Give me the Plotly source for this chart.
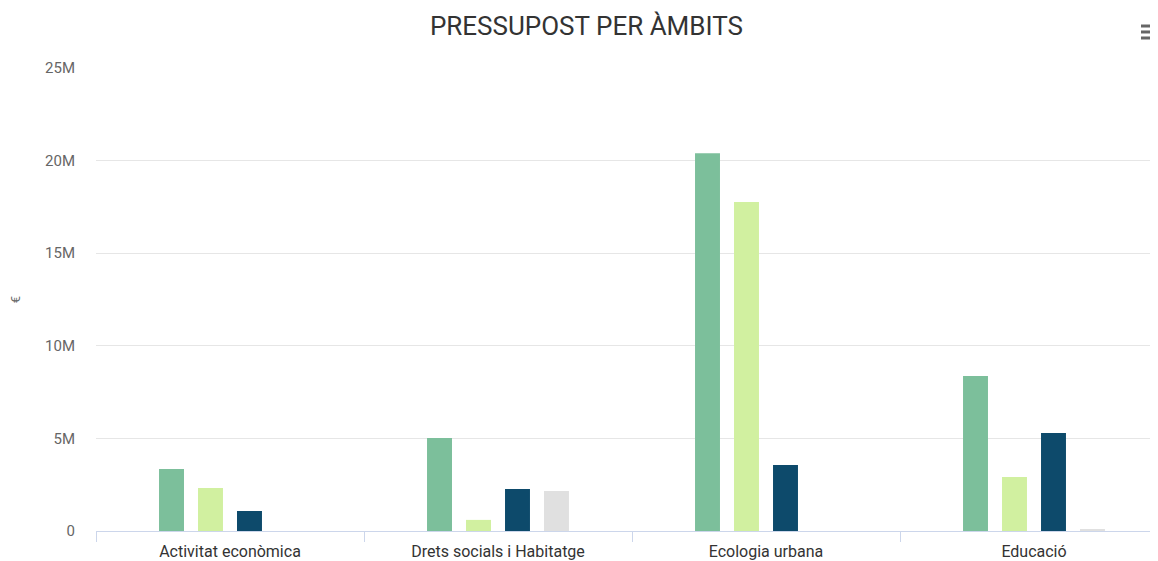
import plotly.graph_objects as go

TITLE = "PRESSUPOST PER ÀMBITS"
CATEGORIES = ["Activitat econòmica", "Drets socials i Habitatge", "Ecologia urbana", "Educació"]

SERIES_A = [3.35e6, 5.02e6, 20.4e6, 8.37e6]
SERIES_B = [2.32e6, 0.6e6, 17.76e6, 2.92e6]
SERIES_C = [1.08e6, 2.27e6, 3.56e6, 5.29e6]
SERIES_D = [0, 2.16e6, 0, 0.08e6]

SERIES = [
    ("Sèrie 1", SERIES_A, "#7cbf9b"),
    ("Sèrie 2", SERIES_B, "#d1f0a0"),
    ("Sèrie 3", SERIES_C, "#0d4a6b"),
    ("Sèrie 4", SERIES_D, "#e0e0e0"),
]

FONT = "Roboto, sans-serif"
AXIS_LINE_COLOR = "#ccd6eb"
GRID_COLOR = "#e6e6e6"
MENU_COLOR = "#666666"

fig = go.Figure()
for name, values, color in SERIES:
    fig.add_trace(go.Bar(
        x=CATEGORIES,
        y=values,
        name=name,
        marker_color=color,
        marker_line_width=0,
        showlegend=False,
    ))

# the page body adds an 8px margin, so the figure is 8px smaller than the window
fig.update_layout(
    width=1150,
    height=553,
    margin=dict(l=88, r=0, t=60, b=30, autoexpand=False),
    paper_bgcolor="white",
    plot_bgcolor="white",
    barmode="group",
    bargap=0.418,
    bargroupgap=0.36,
    font=dict(family=FONT, color="#666666", size=15),
    title=dict(
        text=TITLE,
        x=0.503,
        xanchor="center",
        y=0.968,
        yanchor="middle",
        font=dict(family=FONT, size=26, color="#333333"),
    ),
    xaxis=dict(
        range=[-0.5, 3.4627],
        showline=True,
        linecolor=AXIS_LINE_COLOR,
        linewidth=1,
        ticks="outside",
        tickson="boundaries",
        ticklen=10,
        tickcolor=AXIS_LINE_COLOR,
        tickfont=dict(size=16, color="#333333"),
        ticklabelstandoff=6,
        showgrid=False,
        automargin=False,
        fixedrange=True,
    ),
    yaxis=dict(
        range=[0, 25e6],
        tickvals=[0, 5e6, 10e6, 15e6, 20e6, 25e6],
        ticktext=["0", "5M", "10M", "15M", "20M", "25M"],
        tickfont=dict(size=15, color="#666666"),
        gridcolor=GRID_COLOR,
        gridwidth=1,
        zeroline=False,
        ticklabelstandoff=20,
        title=dict(text="€", standoff=37, font=dict(size=13, color="#666666")),
        automargin=False,
        fixedrange=True,
    ),
)

# Highcharts-style context menu icon (three bars)
for y in (1.0907, 1.0778, 1.0648):
    fig.add_shape(type="line", xref="paper", yref="paper",
                  x0=0.984, x1=0.999, y0=y, y1=y,
                  line=dict(color=MENU_COLOR, width=3))

fig.write_html("out.html", config={"displayModeBar": False})
